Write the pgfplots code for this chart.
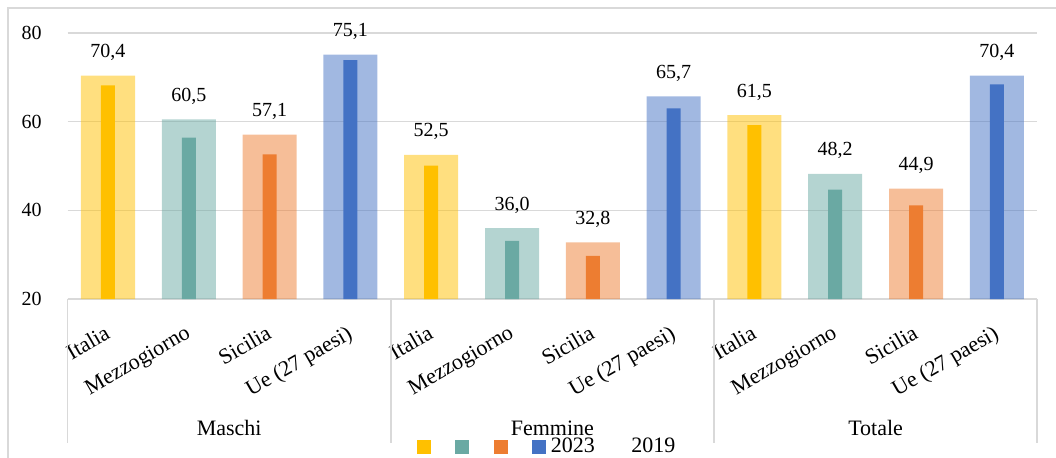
\documentclass[border=0pt]{standalone}
\usepackage{fontspec}
\setmainfont{Liberation Serif}
\usepackage{pgfplots}
\pgfplotsset{compat=1.18}
\definecolor{cY}{HTML}{FFC000}
\definecolor{cT}{HTML}{6AA9A3}
\definecolor{cO}{HTML}{ED7D31}
\definecolor{cB}{HTML}{4472C4}
\definecolor{cG}{HTML}{D9D9D9}
\newcommand{\bigtxt}{\fontsize{16.5}{19}\selectfont}
\begin{document}
\fontsize{15}{18}\selectfont
\begin{tikzpicture}
\useasboundingbox (0,0) rectangle (792pt,342.75pt);
\draw[draw=cG, line width=1.1pt] (6pt,336.75pt) rectangle (796.5pt,-3.75pt);
\begin{axis}[
  at={(50.7pt,118.5pt)}, anchor=south west,
  scale only axis, width=727.2pt, height=199.5pt,
  xmin=-0.5, xmax=11.5, ymin=20, ymax=80,
  ytick={20,40,60,80},
  xtick={0,...,11},
  xticklabels={Italia,Mezzogiorno,Sicilia,Ue (27 paesi),Italia,Mezzogiorno,Sicilia,Ue (27 paesi),Italia,Mezzogiorno,Sicilia,Ue (27 paesi)},
  major tick length=0pt,
  axis lines*=left,
  y axis line style={draw=none},
  x axis line style={draw=cG, line width=1.1pt},
  ymajorgrids, grid style={draw=cG, line width=1.1pt},
  /pgf/number format/assume math mode=true,
  yticklabel style={anchor=east, inner sep=0pt, xshift=-19.2pt},
  xticklabel style={font=\bigtxt, rotate=30, anchor=north east, inner sep=0pt, xshift=-12.25pt, yshift=-14.5pt},
  clip mode=individual,
  legend style={at={(0.3604,-0.5564)}, anchor=west, draw=none, fill=none, inner sep=0pt, outer sep=0pt,
     nodes={inner sep=0pt}, font=\bigtxt,
     /tikz/every odd column/.append style={column sep=3.75pt},
     /tikz/every even column/.append style={column sep=13.9pt}},
  legend columns=-1,
]
\pgfplotsset{wide/.style={ybar, bar width=40.5pt, bar shift=0pt, draw=none, fill opacity=0.5,
   nodes near coords={\pgfmathprintnumber[fixed,fixed zerofill,precision=1,use comma]{\pgfplotspointmeta}},
   nodes near coords style={anchor=base, inner sep=0pt, yshift=13.5pt, text opacity=1, fill opacity=1, black},
   forget plot},
  narrow/.style={ybar, bar width=10.5pt, bar shift=0pt, draw=none, forget plot}}
% wide bars (labelled)
\addplot[wide, fill=cY] coordinates {(0,70.4) (4,52.5) (8,61.5)};
\addplot[wide, fill=cT] coordinates {(1,60.5) (5,36.0) (9,48.2)};
\addplot[wide, fill=cO] coordinates {(2,57.1) (6,32.8) (10,44.9)};
\addplot[wide, fill=cB] coordinates {(3,75.1) (7,65.7) (11,70.4)};
% narrow bars
\addplot[narrow, fill=cY] coordinates {(0,68.2) (4,50.1) (8,59.2)};
\addplot[narrow, fill=cT] coordinates {(1,56.4) (5,33.1) (9,44.7)};
\addplot[narrow, fill=cO] coordinates {(2,52.6) (6,29.7) (10,41.1)};
\addplot[narrow, fill=cB] coordinates {(3,73.9) (7,63.0) (11,68.4)};
% group separators and labels
\foreach \xx in {-0.5,3.5,7.5,11.5} {
  \edef\tmp{\noexpand\draw[draw=cG, line width=1.1pt] (axis cs:\xx,20) -- ++(0pt,-108pt);}\tmp
}
\node[font=\bigtxt, anchor=base, yshift=-102pt] at (axis cs:1.5,20) {Maschi};
\node[font=\bigtxt, anchor=base, yshift=-102pt] at (axis cs:5.5,20) {Femmine};
\node[font=\bigtxt, anchor=base, yshift=-102pt] at (axis cs:9.5,20) {Totale};
% legend
\addlegendimage{legend image code/.code={\fill[cY] (0pt,-4.875pt) rectangle (9.75pt,4.875pt);}}
\addlegendentry{}
\addlegendimage{legend image code/.code={\fill[cT] (0pt,-4.875pt) rectangle (9.75pt,4.875pt);}}
\addlegendentry{}
\addlegendimage{legend image code/.code={\fill[cO] (0pt,-4.875pt) rectangle (9.75pt,4.875pt);}}
\addlegendentry{}
\addlegendimage{legend image code/.code={\fill[cB] (0pt,-4.875pt) rectangle (9.75pt,4.875pt);}}
\addlegendentry{2023}
\addlegendimage{legend image code/.code={\path[draw=none,fill=none] (0pt,-4.875pt) rectangle (9.75pt,4.875pt);}}
\addlegendentry{2019}
\end{axis}
\end{tikzpicture}
\end{document}
